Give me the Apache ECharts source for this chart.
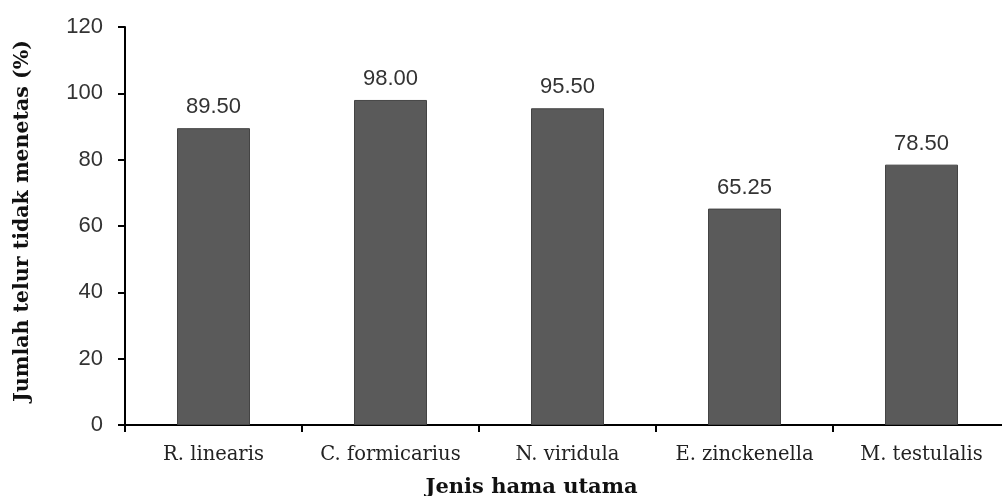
<!DOCTYPE html>
<html><head><meta charset="utf-8">
<script src="https://cdn.jsdelivr.net/npm/echarts@6/dist/echarts.min.js"></script>
<style>html,body{margin:0;padding:0;background:#fff}#c{width:1002px;height:496px}</style>
</head><body><div id="c"></div>
<script>
const categories = ['R. linearis', 'C. formicarius', 'N. viridula', 'E. zinckenella', 'M. testulalis'];
const values = [89.50, 98.00, 95.50, 65.25, 78.50];
const yTicks = [0, 20, 40, 60, 80, 100, 120];
const xTitle = 'Jenis hama utama';
const yTitle = 'Jumlah telur tidak menetas (%)';

const chart = echarts.init(document.getElementById('c'), null, {renderer: 'canvas'});
chart.setOption({
  animation: false,
  backgroundColor: '#fff',
  grid: {left: 125, right: -8, top: 27, bottom: 71, containLabel: false, outerBoundsMode: 'none'},
  xAxis: {
    type: 'category',
    data: categories,
    axisLine: {lineStyle: {color: '#000', width: 2}},
    axisTick: {show: true, length: 7, lineStyle: {color: '#000', width: 2}},
    axisLabel: {color: '#222', fontFamily: 'DejaVu Serif', fontSize: 19.5, margin: 20, interval: 0, hideOverlap: false},
    name: xTitle,
    nameLocation: 'middle',
    nameGap: 52,
    nameTextStyle: {color: '#111', fontFamily: 'DejaVu Serif', fontWeight: 'bold', fontSize: 21, padding: [0, 72, 0, 0]}
  },
  yAxis: {
    type: 'value',
    min: yTicks[0],
    max: yTicks[yTicks.length - 1],
    interval: yTicks[1] - yTicks[0],
    splitLine: {show: false},
    axisLine: {show: true, lineStyle: {color: '#000', width: 2}},
    axisTick: {show: true, length: 7, lineStyle: {color: '#000', width: 2}},
    axisLabel: {color: '#333', fontFamily: 'Liberation Sans', fontSize: 22, margin: 22},
    name: yTitle,
    nameLocation: 'middle',
    nameGap: 92,
    nameTextStyle: {color: '#111', fontFamily: 'DejaVu Serif', fontWeight: 'bold', fontSize: 20.5, padding: [0, 0, 0, 10]}
  },
  series: [{
    type: 'bar',
    data: values,
    barWidth: 73,
    itemStyle: {color: '#5a5a5a', borderColor: '#444', borderWidth: 1},
    label: {
      show: true, position: 'top', distance: 10,
      color: '#333', fontFamily: 'Liberation Sans', fontSize: 22,
      formatter: p => p.value.toFixed(2)
    }
  }]
});
</script></body></html>
